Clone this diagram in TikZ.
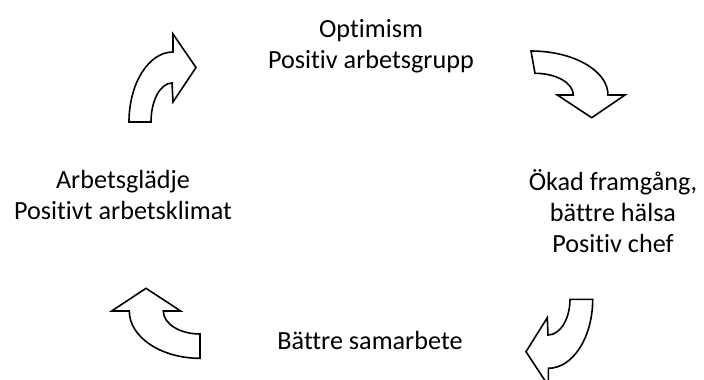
\documentclass[tikz,border=0pt]{standalone}
\usepackage{fontspec}
\setmainfont{Carlito}[Ligatures={NoCommon}]
\begin{document}
\begin{tikzpicture}[x=1pt,y=-1pt,
  curvedarrow/.style={draw=black,fill=white,line width=1.6pt,line join=miter},
  label/.style={align=center,anchor=base,inner sep=0pt,font=\fontsize{26.2}{31}\selectfont}]
\useasboundingbox (0,0) rectangle (704,380);
\clip (0,0) rectangle (704,380);

% cycle labels (anchored at the baseline of their last line)
\node[label] (top)    at (371,68)  {Optimism\\Positiv arbetsgrupp};
\node[label] (right)  at (613,252) {Ökad framgång,\\bättre hälsa\\Positiv chef};
\node[label] (bottom) at (370,349) {Bättre samarbete};
\node[label] (left)   at (123,219) {Arbetsglädje\\Positivt arbetsklimat};

% curved arrow, upper left (points right)
\path[curvedarrow]
  (129,122) .. controls (129,83.3) and (148.7,52) .. (173,52)
  -- (173,34) -- (196,67.5) -- (173,102) -- (172,83)
  .. controls (160.4,83) and (151,100.5) .. (151,122) -- cycle;

% curved arrow, upper right (points down)
\path[curvedarrow]
  (531,51) .. controls (573.5,51) and (608,70.7) .. (608,95)
  -- (625,95) -- (591.7,117.7) -- (557.3,95) -- (573.3,95)
  .. controls (573.3,83) and (556.1,73.3) .. (535,73.3) -- cycle;

% curved arrow, lower right (points left)
\path[curvedarrow]
  (592.7,299.3) .. controls (592.7,337.4) and (572.8,368.3) .. (548.3,368.3)
  -- (548.3,385.7) -- (526,351.7) -- (547.3,317.7) -- (548,335)
  .. controls (560.1,335) and (570,319) .. (570,299.3) -- cycle;

% curved arrow, lower left (points up)
\path[curvedarrow]
  (129.3,311) .. controls (129.3,337.1) and (161,358.3) .. (200,358.3)
  -- (200,334)
  .. controls (179.7,334) and (163.3,323.7) .. (163.3,311)
  -- (180.7,311) -- (146,288.3) -- (111.7,311) -- cycle;
\end{tikzpicture}
\end{document}
